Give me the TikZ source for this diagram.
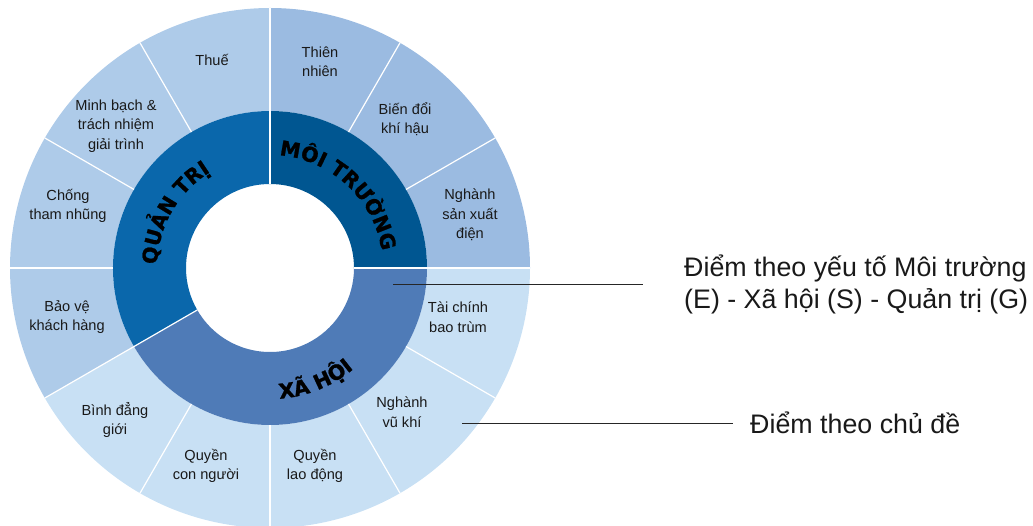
\documentclass[tikz,border=0pt]{standalone}
\usepackage{fontspec}
\setmainfont{Liberation Sans}
\newfontfamily\ringfont{DejaVu Sans}[BoldFeatures={FakeBold=1.2}]
\usetikzlibrary{decorations.text}

\definecolor{envlight}{RGB}{155,187,225}
\definecolor{govlight}{RGB}{174,203,233}
\definecolor{soclight}{RGB}{200,224,244}
\definecolor{envdark}{RGB}{0,86,145}
\definecolor{govdark}{RGB}{10,103,171}
\definecolor{socdark}{RGB}{79,123,183}

\tikzset{
  seglabel/.style={align=center, inner sep=0pt, text=black!90, font=\fontsize{14.6}{19.5}\selectfont},
  notelabel/.style={align=left, anchor=west, inner sep=0pt, text=black!90, font=\fontsize{26.8}{32}\selectfont},
  sepline/.style={white, line width=1.2pt},
  noteline/.style={black!85, line width=0.9pt},
}

\begin{document}
\begin{tikzpicture}[x=1pt, y=1pt]
    \useasboundingbox (0,0) rectangle (1033,525);
    \coordinate (C) at (270,257);

    \begin{scope}[shift={(C)}]
        % outer ring, one sector per theme
        \foreach \a/\col in {90/envlight, 60/envlight, 30/envlight, 0/soclight, -30/soclight, -60/soclight,
                             -90/soclight, -120/soclight, -150/govlight, -180/govlight, 150/govlight, 120/govlight}
            \fill[\col] (\a:157) arc[start angle=\a, end angle=\a-30, radius=157]
                -- (\a-30:260) arc[start angle=\a-30, end angle=\a, radius=260] -- cycle;

        % inner ring: E, S, G
        \fill[envdark] (0:84) arc[start angle=0, end angle=90, radius=84]
            -- (90:157) arc[start angle=90, end angle=0, radius=157] -- cycle;
        \fill[socdark] (-150:84) arc[start angle=-150, end angle=0, radius=84]
            -- (0:157) arc[start angle=0, end angle=-150, radius=157] -- cycle;
        \fill[govdark] (90:84) arc[start angle=90, end angle=210, radius=84]
            -- (210:157) arc[start angle=210, end angle=90, radius=157] -- cycle;

        \foreach \a in {60, 30, -30, -60, -90, -120, -180, 150, 120}
            \draw[sepline] (\a:157) -- (\a:260);
        \foreach \a in {90, 0, -150}
            \draw[sepline] (\a:84) -- (\a:260);

        % curved ring titles
        \path[decorate, decoration={text along path, text align=center,
            text={|\ringfont\bfseries\fontsize{20.5}{20.5}\selectfont|MÔI TRƯỜNG}}]
            (92:113) arc[start angle=92, end angle=2, radius=113];
        \path[decorate, decoration={text along path, text align=center,
            text={|\ringfont\bfseries\fontsize{20.5}{20.5}\selectfont|QUẢN TRỊ}}]
            (210:113) arc[start angle=210, end angle=90, radius=113];
        \path[decorate, decoration={text along path, text align=center,
            text={|\ringfont\bfseries\fontsize{20.5}{20.5}\selectfont|XÃ HỘI}}]
            (-128:131) arc[start angle=-128, end angle=-8, radius=131];
    \end{scope}

    % theme labels
    \node[seglabel] (thue) at (212,465) {Thuế};
    \node[seglabel] (thiennhien) at (320,463) {Thiên\\nhiên};
    \node[seglabel] (khihau) at (405,406) {Biến đổi\\khí hậu};
    \node[seglabel] (sanxuatdien) at (470,310) {Nghành\\sản xuất\\điện};
    \node[seglabel] (taichinh) at (458,208) {Tài chính\\bao trùm};
    \node[seglabel] (vukhi) at (402,113) {Nghành\\vũ khí};
    \node[seglabel] (laodong) at (315,59) {Quyền\\lao động};
    \node[seglabel] (connguoi) at (206,59) {Quyền\\con người};
    \node[seglabel] (binhdang) at (115,105) {Bình đẳng\\giới};
    \node[seglabel] (khachhang) at (67,208) {Bảo vệ\\khách hàng};
    \node[seglabel] (thamnhung) at (68,319) {Chống\\tham nhũng};
    \node[seglabel] (minhbach) at (116,399) {Minh bạch \&\\trách nhiệm\\giải trình};

    % callouts
    \coordinate (ptE) at (393,241);
    \coordinate (ptT) at (462,102);
    \node[notelabel] (noteE) at (684,241) {Điểm theo yếu tố Môi trường\\(E) - Xã hội (S) - Quản trị (G)};
    \node[notelabel] (noteT) at (750,102) {Điểm theo chủ đề};
    \draw[noteline, shorten >=41pt] (ptE) -- (noteE.west);
    \draw[noteline, shorten >=17pt] (ptT) -- (noteT.west);
\end{tikzpicture}
\end{document}
